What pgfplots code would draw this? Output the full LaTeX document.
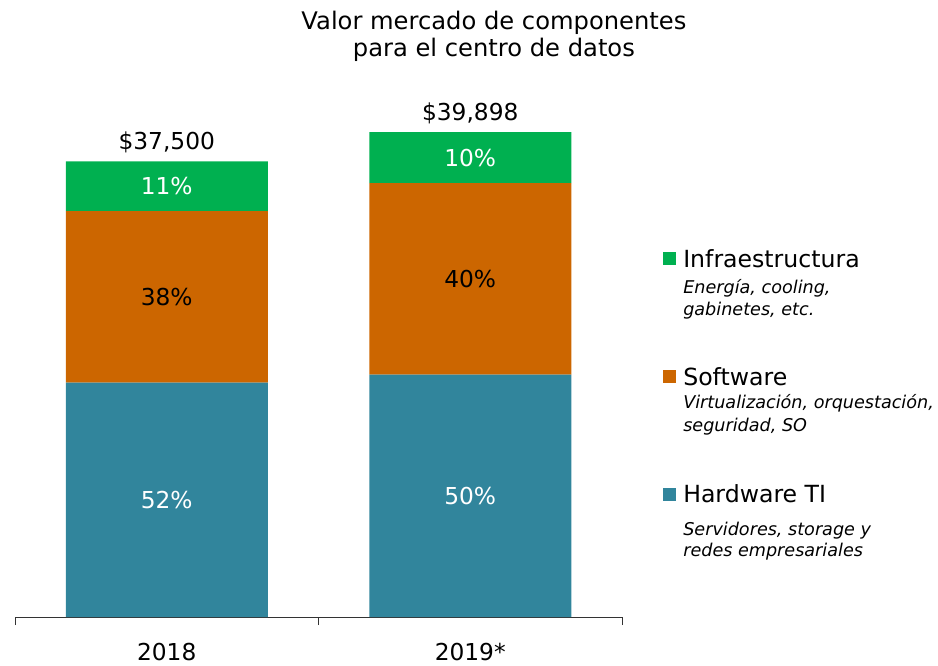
\documentclass[border=0pt]{standalone}
\usepackage{pgfplots}
\usepackage{pgfplotstable}
\pgfplotsset{compat=1.18}
\usepackage{fontspec}
\setmainfont{DejaVu Sans}
\definecolor{cinfra}{HTML}{00B050}
\definecolor{csoft}{HTML}{CC6600}
\definecolor{chard}{HTML}{31859C}
\newcommand{\bigf}{\fontsize{23.3}{27}\selectfont}
\newcommand{\lgd}[5]{\vtop{\offinterlineskip
  \hbox{\smash{\fontsize{23.6}{27}\selectfont #1}}\kern#4
  \hbox{\smash{\fontsize{17.6}{20}\selectfont\itshape #2}}\kern#5
  \hbox{\smash{\fontsize{17.6}{20}\selectfont\itshape #3}}}}
\pgfplotstableread{
x v lab
0 19300 52
1 19950 50
}\hardtbl
\pgfplotstableread{
x v lab
0 14100 38
1 15750 40
}\softtbl
\pgfplotstableread{
x v lab
0 4100 11
1 4198 10
}\infratbl
\pgfplotsset{
  midlabel/.style={
    nodes near coords={\pgfplotspointmeta\%},
    point meta=explicit symbolic,
    every node near coord/.style={anchor=center, text=#1, font=\bigf},
  },
  common/.style={
    at={(15pt,48pt)}, anchor=south west,
    width=607pt, height=546.75pt, scale only axis,
    xmin=-0.5, xmax=1.5, ymin=0, ymax=45000,
  }
}
\begin{document}
\begin{tikzpicture}
\useasboundingbox (0,0) rectangle (938pt,665pt);
\begin{axis}[
  common,
  ybar stacked, bar width=202pt,
  axis x line*=bottom, axis y line=none,
  axis line style={black!80, line width=0.8pt},
  xtick={0,1}, xticklabels={2018,2019*},
  major tick length=0pt,
  extra x ticks={-0.5,0.5,1.5}, extra x tick labels={},
  extra x tick style={major tick length=8pt, tick align=outside, tick style={black!80, line width=0.8pt}},
  xticklabel style={font=\bigf, anchor=base, yshift=-43pt},
  title={Valor mercado de componentes\\para el centro de datos},
  title style={align=center, font=\fontsize{24.2}{27}\selectfont, inner sep=0pt, at={(0.789,1.0974)}, anchor=north},
  legend image code/.code={\fill[#1] (0pt,2pt) rectangle (13pt,15pt);},
  legend style={at={(1.0680,0.6670)}, anchor=north west, draw=none, fill=none,
    inner sep=0pt, outer sep=0pt, row sep=101.2pt, column sep=7pt,
    nodes={inner sep=0pt, outer sep=0pt}, cells={anchor=base west}},
  reverse legend,
]
\addplot[fill=chard, draw=none, midlabel=white] table[x=x, y=v, meta=lab] {\hardtbl};
\addplot[fill=csoft, draw=none, midlabel=black] table[x=x, y=v, meta=lab] {\softtbl};
\addplot[fill=cinfra, draw=none, midlabel=white] table[x=x, y=v, meta=lab] {\infratbl};
\legend{\lgd{Hardware TI}{Servidores, storage y}{redes empresariales}{33pt}{20.7pt},
  \lgd{Software}{Virtualización, orquestación,}{seguridad, SO}{23.3pt}{22.7pt},
  \lgd{Infraestructura}{Energía, cooling,}{gabinetes, etc.}{26.3pt}{22pt}}
\end{axis}
\begin{axis}[common, hide axis]
\addplot[draw=none, nodes near coords, point meta=explicit symbolic,
  every node near coord/.style={anchor=base, yshift=11.4pt, font=\bigf, text=black}]
  coordinates {(0,37500) [\$37,500] (1,39898) [\$39,898]};
\end{axis}
\end{tikzpicture}
\end{document}
